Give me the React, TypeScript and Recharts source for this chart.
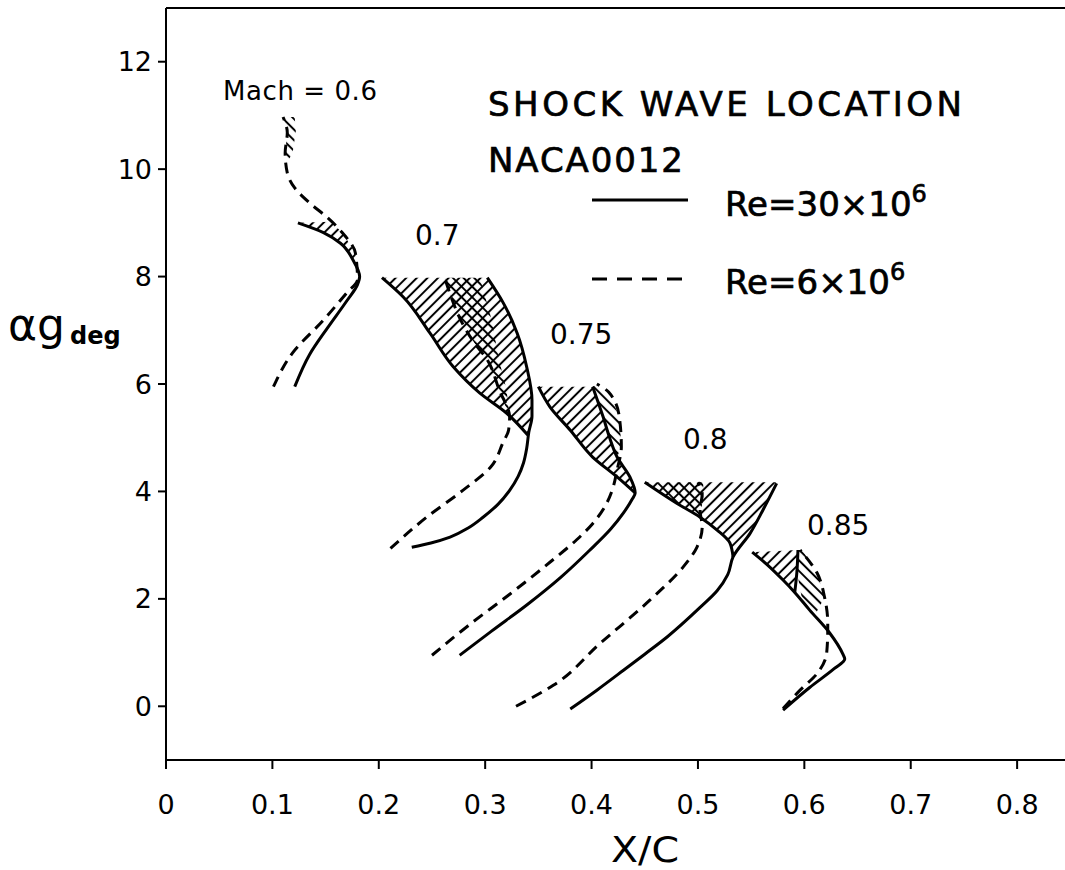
import React from 'react';
import { ScatterChart, Scatter, XAxis, YAxis, ReferenceLine } from 'recharts';

// ---- tick values ----
const xTicks = [0, 0.1, 0.2, 0.3, 0.4, 0.5, 0.6, 0.7, 0.8];
const yTicks = [0, 2, 4, 6, 8, 10, 12];

// ---- Mach 0.6 ----
const solid06 = [[0.121, 5.95], [0.135, 6.55], [0.152, 7.05], [0.170, 7.55], [0.180, 7.85], [0.182, 8.0], [0.176, 8.3], [0.164, 8.62], [0.148, 8.82], [0.124, 9.0]];
const dashed06 = [[0.101, 5.95], [0.119, 6.58], [0.148, 7.19], [0.170, 7.70], [0.180, 7.94], [0.178, 8.44], [0.166, 8.81], [0.151, 9.11], [0.135, 9.37], [0.121, 9.65], [0.114, 9.93], [0.112, 10.30], [0.114, 10.68], [0.110, 10.97]];
const hatch06 = [[0.124, 9.0], [0.148, 8.82], [0.164, 8.62], [0.176, 8.3], [0.182, 8.0], [0.178, 8.44], [0.166, 8.81], [0.155, 9.02]];
const band06 = [[0.110, 10.97], [0.114, 10.68], [0.112, 10.30], [0.113, 10.1], [0.119, 10.3], [0.122, 10.7], [0.121, 10.97]];

// ---- Mach 0.7 ----
const solid07 = [[0.231, 2.96], [0.249, 3.04], [0.267, 3.15], [0.284, 3.32], [0.298, 3.52], [0.312, 3.76], [0.323, 4.02], [0.331, 4.28], [0.336, 4.53], [0.339, 4.80], [0.341, 5.10], [0.344, 5.40], [0.344, 5.70], [0.339, 6.32], [0.330, 6.95], [0.317, 7.51], [0.302, 7.98]];
const solid07b = [[0.340, 5.05], [0.320, 5.46], [0.295, 5.83], [0.270, 6.32], [0.248, 6.95], [0.223, 7.62], [0.203, 7.98]];
const hatch07 = [[0.340, 5.05], [0.320, 5.46], [0.295, 5.83], [0.270, 6.32], [0.248, 6.95], [0.223, 7.62], [0.203, 7.98], [0.302, 7.98], [0.317, 7.51], [0.330, 6.95], [0.339, 6.32], [0.344, 5.70], [0.344, 5.40], [0.341, 5.10]];
const dashed07 = [[0.211, 2.94], [0.245, 3.52], [0.279, 4.02], [0.305, 4.45], [0.317, 4.92], [0.322, 5.14], [0.323, 5.38], [0.313, 5.90], [0.302, 6.45], [0.290, 6.76], [0.277, 7.19], [0.268, 7.62], [0.262, 7.98]];
const cross07 = [[0.262, 7.98], [0.268, 7.62], [0.277, 7.19], [0.290, 6.76], [0.302, 6.45], [0.313, 5.90], [0.323, 5.38], [0.320, 5.9], [0.313, 6.45], [0.306, 7.2], [0.295, 7.98]];

// ---- Mach 0.75 ----
const solid075 = [[0.276, 0.95], [0.306, 1.4], [0.340, 1.9], [0.371, 2.4], [0.398, 2.9], [0.418, 3.3], [0.430, 3.6], [0.438, 3.85], [0.441, 3.97], [0.436, 4.27], [0.424, 4.64], [0.417, 5.0], [0.411, 5.38], [0.401, 5.95]];
const solid075b = [[0.441, 3.97], [0.424, 4.27], [0.401, 4.64], [0.380, 5.14], [0.361, 5.57], [0.350, 5.95]];
const hatch075 = [[0.441, 3.97], [0.424, 4.27], [0.401, 4.64], [0.380, 5.14], [0.361, 5.57], [0.350, 5.95], [0.401, 5.95], [0.411, 5.38], [0.417, 5.0], [0.424, 4.64], [0.436, 4.27]];
const dashed075 = [[0.250, 0.95], [0.284, 1.5], [0.324, 2.1], [0.362, 2.7], [0.386, 3.1], [0.401, 3.4], [0.412, 3.7], [0.419, 4.0], [0.424, 4.4], [0.428, 4.83], [0.426, 5.40], [0.416, 5.85], [0.405, 6.0]];
const band075 = [[0.401, 5.95], [0.411, 5.38], [0.417, 5.0], [0.424, 4.64], [0.428, 4.83], [0.426, 5.40], [0.416, 5.85], [0.405, 6.0]];

// ---- Mach 0.8 ----
const solid08 = [[0.380, -0.05], [0.405, 0.30], [0.430, 0.67], [0.450, 0.97], [0.471, 1.29], [0.502, 1.84], [0.518, 2.15], [0.528, 2.45], [0.533, 2.78], [0.549, 3.22], [0.561, 3.65], [0.574, 4.15]];
const solid08b = [[0.533, 2.78], [0.530, 3.04], [0.518, 3.28], [0.502, 3.52], [0.480, 3.78], [0.450, 4.17]];
const hatch08 = [[0.533, 2.78], [0.530, 3.04], [0.518, 3.28], [0.502, 3.52], [0.480, 3.78], [0.450, 4.17], [0.574, 4.17], [0.561, 3.65], [0.549, 3.22]];
const dashed08 = [[0.329, 0.0], [0.364, 0.39], [0.408, 1.17], [0.455, 1.98], [0.486, 2.59], [0.499, 2.96], [0.504, 3.34], [0.502, 3.65], [0.504, 3.95], [0.500, 4.17]];
const cross08 = [[0.455, 4.15], [0.480, 3.78], [0.502, 3.52], [0.505, 3.9], [0.505, 4.17]];

// ---- Mach 0.85 ----
const solid085 = [[0.580, -0.07], [0.605, 0.35], [0.628, 0.70], [0.638, 0.88], [0.636, 0.98], [0.624, 1.36], [0.605, 1.79], [0.591, 2.12], [0.580, 2.35], [0.566, 2.62], [0.551, 2.87]];
const solid085b = [[0.591, 2.12], [0.593, 2.5], [0.594, 2.91]];
const hatch085 = [[0.551, 2.87], [0.566, 2.62], [0.580, 2.35], [0.591, 2.12], [0.593, 2.5], [0.594, 2.91]];
const dashed085 = [[0.580, -0.04], [0.596, 0.30], [0.612, 0.61], [0.621, 0.99], [0.622, 1.42], [0.622, 1.55], [0.619, 2.03], [0.612, 2.48], [0.596, 2.91]];
const band085 = [[0.594, 2.91], [0.598, 2.91], [0.612, 2.48], [0.619, 2.03], [0.610, 1.70], [0.598, 1.98], [0.594, 2.4]];

const toPts = (a: number[][]) => a.map(([x, y]) => ({ x, y }));

const NoDot = () => <g />;

const FONT = "'DejaVu Sans', sans-serif";

const solidLine = { stroke: '#000', strokeWidth: 3, fill: 'none' };
const dashLine = { stroke: '#000', strokeWidth: 3, fill: 'none', strokeDasharray: '11 7' };

function Curve(key: string, data: number[][], dashed: boolean) {
  return (
    <Scatter
      key={key}
      data={toPts(data)}
      line={dashed ? dashLine : solidLine}
      lineType="joint"
      lineJointType="monotoneY"
      shape={NoDot}
      isAnimationActive={false}
    />
  );
}

function Hatch(key: string, data: number[][], pattern: string) {
  return (
    <Scatter
      key={key}
      data={toPts(data)}
      line={{ fill: `url(#${pattern})`, stroke: 'none' }}
      lineType="joint"
      lineJointType="linear"
      shape={NoDot}
      isAnimationActive={false}
    />
  );
}

export default function App() {
  return (
    <div style={{ position: 'absolute', left: 0, top: 0, width: 1065, height: 870, background: '#fff' }}>
      <ScatterChart width={1065} height={870} margin={{ top: 8, right: 0, bottom: 48, left: 0 }}>
        <defs>
          <pattern id="hatchR" patternUnits="userSpaceOnUse" width="7.5" height="7.5" patternTransform="rotate(45)">
            <line x1="3.75" y1="0" x2="3.75" y2="7.5" stroke="#000" strokeWidth="2" />
          </pattern>
          <pattern id="hatchL" patternUnits="userSpaceOnUse" width="7.5" height="7.5" patternTransform="rotate(-45)">
            <line x1="3.75" y1="0" x2="3.75" y2="7.5" stroke="#000" strokeWidth="2" />
          </pattern>
        </defs>
        <XAxis
          type="number"
          dataKey="x"
          domain={[0, 0.845]}
          ticks={xTicks}
          allowDataOverflow
          height={62}
          stroke="#000"
          strokeWidth={2}
          tickSize={9}
          tickMargin={26}
          tick={{ fill: '#000', fontSize: 27, fontFamily: FONT }}
          tickFormatter={(v: number) => String(v)}
        />
        <YAxis
          type="number"
          dataKey="y"
          domain={[-1, 13]}
          ticks={yTicks}
          allowDataOverflow
          width={166}
          stroke="#000"
          strokeWidth={2}
          tickSize={8}
          tickMargin={6}
          tick={{ fill: '#000', fontSize: 27, fontFamily: FONT }}
        />
        <ReferenceLine y={13} stroke="#000" strokeWidth={2} ifOverflow="visible" />
        {Hatch('h06', hatch06, 'hatchR')}
        {Hatch('b06', band06, 'hatchL')}
        {Hatch('h07', hatch07, 'hatchR')}
        {Hatch('c07', cross07, 'hatchL')}
        {Hatch('h075', hatch075, 'hatchR')}
        {Hatch('b075', band075, 'hatchL')}
        {Hatch('h08', hatch08, 'hatchR')}
        {Hatch('c08', cross08, 'hatchL')}
        {Hatch('h085', hatch085, 'hatchR')}
        {Hatch('b085', band085, 'hatchL')}
        {Curve('s06', solid06, false)}
        {Curve('d06', dashed06, true)}
        {Curve('s07', solid07, false)}
        {Curve('s07b', solid07b, false)}
        {Curve('d07', dashed07, true)}
        {Curve('s075', solid075, false)}
        {Curve('s075b', solid075b, false)}
        {Curve('d075', dashed075, true)}
        {Curve('s08', solid08, false)}
        {Curve('s08b', solid08b, false)}
        {Curve('d08', dashed08, true)}
        {Curve('s085', solid085, false)}
        {Curve('s085b', solid085b, false)}
        {Curve('d085', dashed085, true)}
      </ScatterChart>
      <svg width={1065} height={870} style={{ position: 'absolute', left: 0, top: 0, pointerEvents: 'none' }}>
        <g fontFamily={FONT} fill="#000">
          <text x={223} y={100} fontSize={26} textLength={154} lengthAdjust="spacing">Mach = 0.6</text>
          <text x={415} y={245} fontSize={28}>0.7</text>
          <text x={550} y={344} fontSize={28}>0.75</text>
          <text x={683} y={449} fontSize={28}>0.8</text>
          <text x={807} y={535} fontSize={28}>0.85</text>
          <g stroke="#000" strokeWidth={0.7}>
            <text x={488} y={116} fontSize={34} textLength={474} lengthAdjust="spacing">SHOCK WAVE LOCATION</text>
            <text x={488} y={172} fontSize={34} textLength={195} lengthAdjust="spacing">NACA0012</text>
            <text x={725} y={216} fontSize={34}>
              Re=30×10<tspan dy={-14} fontSize={24}>6</tspan>
            </text>
            <text x={725} y={294} fontSize={34}>
              Re=6×10<tspan dy={-14} fontSize={24}>6</tspan>
            </text>
          </g>
          <text x={611} y={862} fontSize={36} textLength={68} lengthAdjust="spacingAndGlyphs">X/C</text>
          <text x={8} y={340} fontSize={44}>αg</text>
          <text x={70} y={344} fontSize={24} fontWeight="bold">deg</text>
        </g>
        <line x1={592} y1={200} x2={688} y2={200} stroke="#000" strokeWidth={3} />
        <line x1={592} y1={279} x2={683} y2={279} stroke="#000" strokeWidth={3} strokeDasharray="15 10" />
      </svg>
    </div>
  );
}
